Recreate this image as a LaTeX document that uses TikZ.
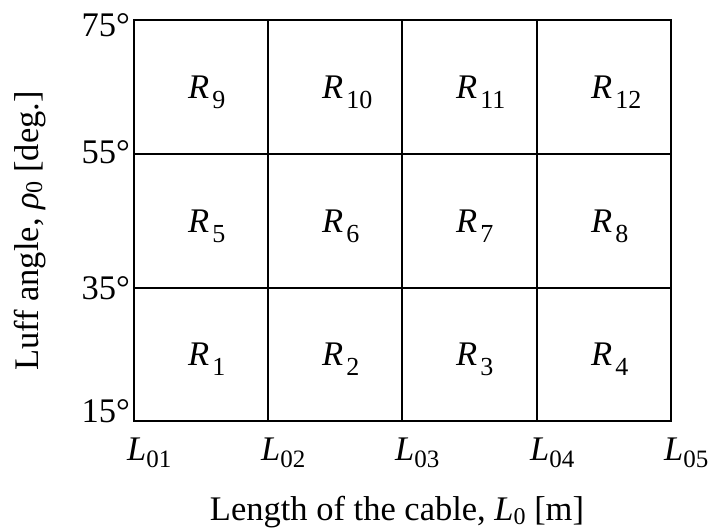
\documentclass[tikz,border=0pt]{standalone}
\usepackage{fontspec}
\setmainfont{Liberation Serif}
\newcommand{\Rsub}[1]{\textit{R}\kern3pt\raisebox{-10pt}{\fontsize{26}{26}\selectfont #1}}
\newcommand{\Lsub}[1]{\textit{L}\raisebox{-7pt}{\fontsize{25}{25}\selectfont #1}}

\begin{document}
\begin{tikzpicture}[x=1pt,y=-1pt,
    gridline/.style={line width=2pt},
    lbl/.style={inner sep=0pt,font=\fontsize{34.5}{40}\selectfont}]
        \useasboundingbox (0,0) rectangle (712,531);
        % grid of regions
        \draw[gridline] (134,20) rectangle (671,421);
        \foreach \x in {268,402,537} \draw[gridline] (\x,20) -- (\x,421);
        \foreach \y in {154,288} \draw[gridline] (134,\y) -- (671,\y);
        % region names
        \foreach \n/\x/\y in {1/201/354,2/335/354,3/469/354,4/604/354,
                              5/201/221,6/335/221,7/469/221,8/604/221,
                              9/201/87,10/335/87,11/469/87,12/604/87}
          \node[lbl,anchor=base west] (r\n) at (\x-13,\y+11) {\Rsub{\n}};
        % angle ticks
        \foreach \a/\y in {75/36,55/163,35/299,15/422}
          \node[lbl,anchor=base east] (t\a) at (130,\y) {\a°};
        % length ticks
        \foreach \i/\x in {1/134,2/268,3/402,4/537,5/671}
          \node[lbl,anchor=base west] (l\i) at (\x-7,460) {\Lsub{0\i}};
        % axis titles
        \node[lbl,anchor=base] (xlabel) at (397,520) {Length of the cable, \textit{L}\raisebox{-4pt}{\fontsize{24}{24}\selectfont 0} [m]};
        \node[lbl,anchor=base,rotate=90] (ylabel) at (38,231) {Luff angle, \textit{ρ}\raisebox{-4pt}{\fontsize{24}{24}\selectfont 0} [deg.]};
      \end{tikzpicture}
\end{document}
